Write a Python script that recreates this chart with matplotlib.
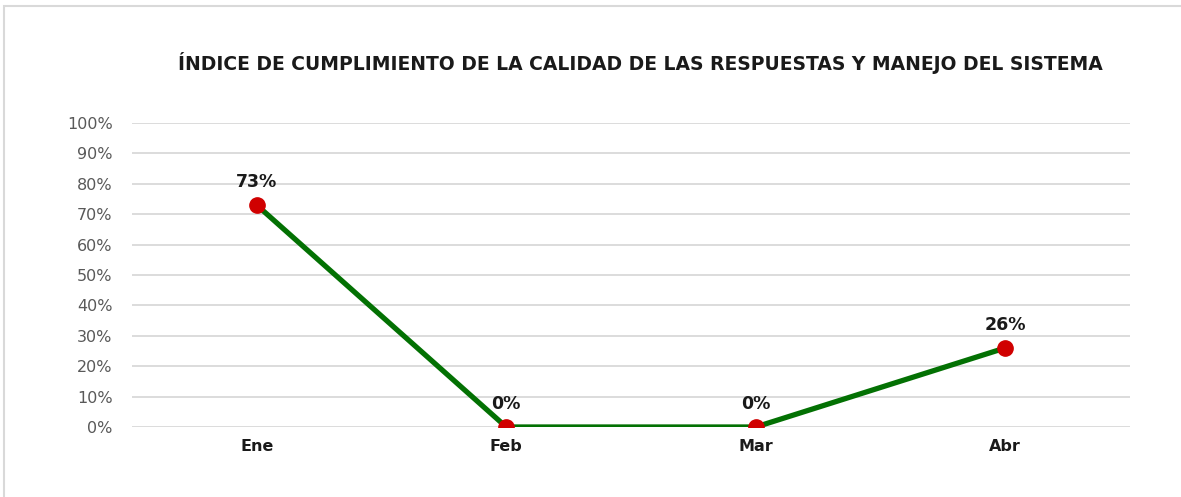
import matplotlib
matplotlib.use("Agg")
import matplotlib.pyplot as plt
from matplotlib.patches import Rectangle

categories = ["Ene", "Feb", "Mar", "Abr"]
values = [0.73, 0.0, 0.0, 0.26]
value_labels = ["73%", "0%", "0%", "26%"]
yticks = [0, 0.1, 0.2, 0.3, 0.4, 0.5, 0.6, 0.7, 0.8, 0.9, 1.0]
ytick_labels = ["0%", "10%", "20%", "30%", "40%", "50%", "60%", "70%", "80%", "90%", "100%"]
title = "ÍNDICE DE CUMPLIMIENTO DE LA CALIDAD DE LAS RESPUESTAS Y MANEJO DEL SISTEMA"

plt.rcParams['font.family'] = ['DejaVu Sans']

W, H = 1181, 497
fig = plt.figure(figsize=(W/100, H/100), dpi=100)
fig.patch.set_facecolor("white")

# outer chart border
fig.add_artist(Rectangle((4/W, -0.01), 1.2, (H-6)/H + 0.01, transform=fig.transFigure,
                         fill=False, edgecolor="#D9D9D9", linewidth=1.5))

ax = fig.add_axes([132/W, 70/H, (1130-132)/W, (427-123)/H])
x = list(range(len(categories)))
ax.plot(x, values, color="#037103", linewidth=3.8, zorder=3,
        marker="o", markersize=11, markerfacecolor="#D00000", markeredgecolor="#D00000")
for xi, v, lab in zip(x, values, value_labels):
    ax.annotate(lab, (xi, v), xytext=(0, 16.5), textcoords="offset points",
                ha="center", va="center", fontsize=12.5, fontweight="bold", color="#1a1a1a")

ax.set_xlim(-0.5, len(categories) - 0.5)
ax.set_ylim(0, 1.0)
ax.set_yticks(yticks)
ax.set_yticklabels(ytick_labels, color="#595959", fontsize=11.5)
ax.set_xticks(x)
ax.set_xticklabels(categories, fontweight="bold", fontsize=11.5, color="#1a1a1a")
ax.tick_params(axis="both", length=0)
ax.tick_params(axis="y", pad=14)
ax.tick_params(axis="x", pad=8.5)
ax.grid(axis="y", color="#D9D9D9", linewidth=1.3)
ax.set_axisbelow(True)
for s in ax.spines.values():
    s.set_visible(False)

fig.text(640/W, 1 - 63/H, title, ha="center", va="center", fontsize=13.5,
         fontweight="bold", color="#1a1a1a")

fig.savefig("out.png", dpi=100, facecolor="white")
